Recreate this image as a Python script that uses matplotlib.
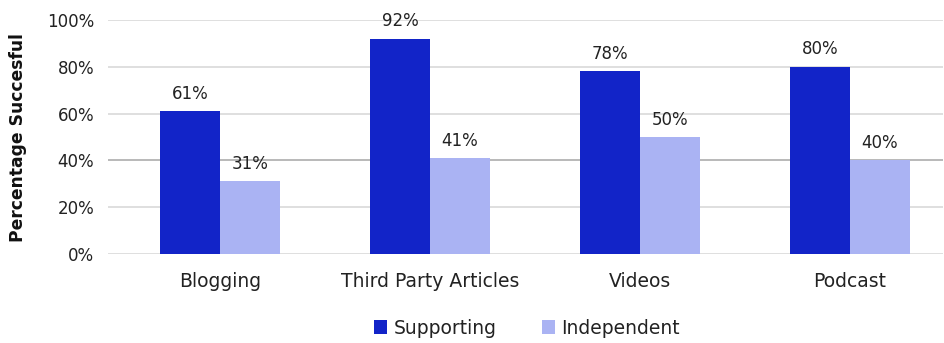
import matplotlib
matplotlib.use("Agg")
import matplotlib.pyplot as plt
import numpy as np

categories = ["Blogging", "Third Party Articles", "Videos", "Podcast"]
supporting = [61, 92, 78, 80]
independent = [31, 41, 50, 40]
yticks = [0, 20, 40, 60, 80, 100]

plt.rcParams["font.family"] = ["DejaVu Sans"]

blue = "#1224C8"
light = "#AAB3F3"

fig = plt.figure(figsize=(9.44, 3.43), dpi=100)
ax = fig.add_axes([108 / 944, 89 / 343, (943 - 108) / 944, (254 - 20) / 343])

x = np.arange(len(categories))
w = 0.286
b1 = ax.bar(x - w / 2, supporting, w, color=blue, zorder=3, label="Supporting")
b2 = ax.bar(x + w / 2, independent, w, color=light, zorder=3, label="Independent")

for bars, vals in ((b1, supporting), (b2, independent)):
    for rect, v in zip(bars, vals):
        ax.annotate(f"{v}%", (rect.get_x() + rect.get_width() / 2, v),
                    xytext=(0, 6), textcoords="offset points",
                    ha="center", va="bottom", fontsize=12, color="#222222")

ax.set_xlim(-0.533, 3.443)
ax.set_ylim(0, 100)
ax.set_yticks(yticks)
ax.set_yticklabels([f"{t}%" for t in yticks])
ax.set_xticks(x)
ax.set_xticklabels(categories)
ax.tick_params(axis="both", length=0, colors="#222222")
ax.tick_params(axis="y", pad=10, labelsize=12)
ax.tick_params(axis="x", pad=13, labelsize=13.5)

for t in yticks:
    col = "#b3b3b3" if t == 40 else "#dcdcdc"
    ax.axhline(t, color=col, lw=1.3, zorder=1)

for s in ax.spines.values():
    s.set_visible(False)

ax.set_ylabel("Percentage Succesful", fontsize=12.3, fontweight="bold", color="#111111")
ax.yaxis.set_label_coords(-0.097, 0.5)

fig.legend(handles=[b1, b2], loc="center", bbox_to_anchor=(527 / 944, 1 - 328 / 343),
           ncol=2, frameon=False, fontsize=13.5, handlelength=0.7, handleheight=0.7,
           handletextpad=0.35, columnspacing=2.4, labelcolor="#222222")

fig.savefig("out.png", dpi=100)
